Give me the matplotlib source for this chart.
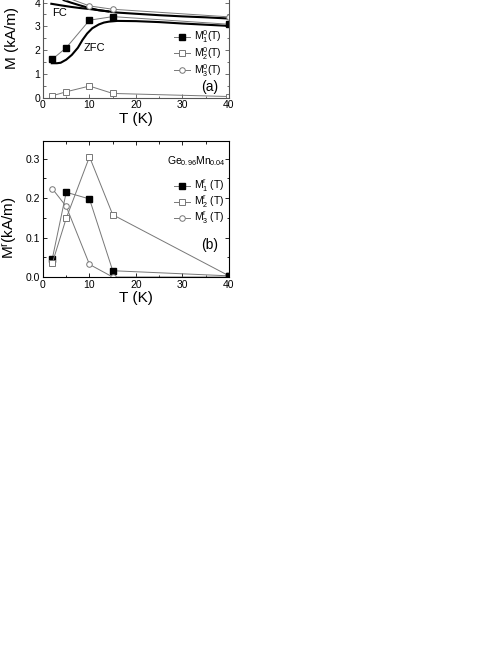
import matplotlib
matplotlib.use("Agg")
import matplotlib.pyplot as plt
from matplotlib.ticker import MultipleLocator

plt.rcParams["font.family"] = ["Liberation Sans", "DejaVu Sans"]
plt.rcParams["mathtext.fontset"] = "custom"
plt.rcParams["mathtext.rm"] = "Liberation Sans"
plt.rcParams["mathtext.it"] = "Liberation Sans"

# temperatures of the measured points
T = [2, 5, 10, 15, 40]

# panel (a): fitted components
M1_0 = [1.62, 2.10, 3.26, 3.41, 3.09]
M2_0 = [0.08, 0.25, 0.49, 0.18, 0.05]
M3_0 = [4.55, 4.22, 3.86, 3.72, 3.40]

# FC / ZFC measured curves
T_fc = [1.8, 4, 6, 8, 10, 12, 14, 16, 20, 25, 30, 35, 40]
M_fc = [3.95, 3.88, 3.82, 3.77, 3.73, 3.68, 3.63, 3.58, 3.53, 3.47, 3.42, 3.38, 3.33]
T_fc2 = [2.5, 3.5, 4.5, 6, 8, 10, 12, 14]
M_fc2 = [4.5, 4.25, 4.1, 4.0, 3.88, 3.77, 3.68, 3.63]
T_zfc = [1.9, 3, 3.8, 5, 6.2, 7.5, 8.5, 9.5, 10.6, 12, 13.1, 14.2, 16, 20, 25, 30, 35, 40]
M_zfc = [1.45, 1.45, 1.47, 1.6, 1.8, 2.1, 2.43, 2.7, 2.92, 3.08, 3.16, 3.2, 3.23, 3.22, 3.18, 3.12, 3.07, 3.02]

# panel (b): remanent components
M1_r = [0.046, 0.215, 0.198, 0.016, 0.003]
M2_r = [0.035, 0.149, 0.305, 0.158, 0.003]
M3_r = [0.224, 0.179, 0.032, 0.0, 0.0]

fig = plt.figure(figsize=(4.98, 6.45), dpi=100)
ax1 = fig.add_axes([0.0863, 0.8485, 0.3735, 0.2120])
ax2 = fig.add_axes([0.0863, 0.5705, 0.3735, 0.2109])

gray = "#777777"
fs_tick = 7.5
fs_lab = 11

def style(ax, spine_col):
    ax.set_xlim(0, 40)
    ax.xaxis.set_major_locator(MultipleLocator(10))
    ax.xaxis.set_minor_locator(MultipleLocator(5))
    ax.tick_params(which="both", direction="in", top=True, right=True,
                   labelsize=fs_tick, pad=2, color=spine_col)
    ax.tick_params(which="major", length=3, width=0.6)
    ax.tick_params(which="minor", length=1.8, width=0.6)
    for s in ax.spines.values():
        s.set_color(spine_col)
        s.set_linewidth(0.8)
    ax.set_xlabel("T (K)", fontsize=fs_lab, labelpad=1)

leg_kw = dict(loc="upper left", frameon=False, fontsize=fs_tick, borderpad=0,
              labelspacing=0.0, handlelength=1.6, handletextpad=0.3, numpoints=1)

# ---- panel (a)
ax1.plot(T_fc, M_fc, color="black", lw=1.5)
ax1.plot(T_fc2, M_fc2, color="black", lw=1.5)
ax1.plot(T_zfc, M_zfc, color="black", lw=1.5)
ax1.plot(T, M1_0, "-s", color=gray, lw=0.7, ms=4, mfc="black", mec="black", label=r"$\mathrm{M}_1^0$(T)")
ax1.plot(T, M2_0, "-s", color=gray, lw=0.7, ms=4, mfc="white", mec=gray, mew=0.7, label=r"$\mathrm{M}_2^0$(T)")
ax1.plot(T, M3_0, "-o", color=gray, lw=0.7, ms=4, mfc="white", mec=gray, mew=0.7, label=r"$\mathrm{M}_3^0$(T)")
ax1.set_ylim(0, 5.75)
ax1.yaxis.set_major_locator(MultipleLocator(1))
ax1.yaxis.set_minor_locator(MultipleLocator(0.5))
style(ax1, "#555555")
ax1.set_ylabel("M (kA/m)", fontsize=fs_lab)
ax1.yaxis.set_label_coords(-0.13, 0.44)
ax1.text(1.9, 3.57, "FC", fontsize=8, va="center", ha="left")
ax1.text(8.8, 2.09, "ZFC", fontsize=8, va="center", ha="left")
ax1.text(37.7, 0.45, "(a)", fontsize=10, va="center", ha="right")
ax1.legend(bbox_to_anchor=(0.675, 0.545), **leg_kw)

# ---- panel (b)
ax2.plot(T, M1_r, "-s", color=gray, lw=0.7, ms=4, mfc="black", mec="black", label=r"$\mathrm{M}_1^r$ (T)")
ax2.plot(T, M2_r, "-s", color=gray, lw=0.7, ms=4, mfc="white", mec=gray, mew=0.7, label=r"$\mathrm{M}_2^r$ (T)")
ax2.plot(T, M3_r, "-o", color=gray, lw=0.7, ms=4, mfc="white", mec=gray, mew=0.7, label=r"$\mathrm{M}_3^r$ (T)")
ax2.plot([40], [M1_r[-1]], "s", color="black", ms=4)
ax2.set_ylim(0, 0.345)
ax2.yaxis.set_major_locator(MultipleLocator(0.1))
ax2.yaxis.set_minor_locator(MultipleLocator(0.05))
ax2.yaxis.set_major_formatter(matplotlib.ticker.FormatStrFormatter("%.1f"))
style(ax2, "black")
ax2.set_ylabel(r"$\mathrm{M}^r$(kA/m)", fontsize=fs_lab)
ax2.yaxis.set_label_coords(-0.13, 0.36)
ax2.text(26.7, 0.293, r"$\mathrm{Ge}_{0.96}\mathrm{Mn}_{0.04}$", fontsize=7.5, va="center", ha="left")
ax2.text(37.7, 0.081, "(b)", fontsize=10, va="center", ha="right")
ax2.legend(bbox_to_anchor=(0.675, 0.765), **leg_kw)

fig.savefig("out.png", dpi=100)
